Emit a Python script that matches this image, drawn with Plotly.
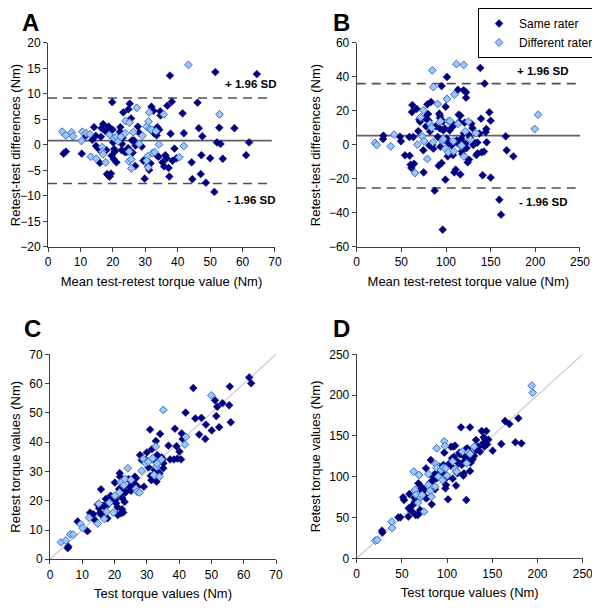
import plotly.graph_objects as go
from plotly.subplots import make_subplots

# ---- Panel A: Bland-Altman, smaller muscle group (Nm) ----
a_same_x = [4.8, 5.5, 10.4, 11.6, 13.7, 14.2, 14.7, 14.8, 15.8, 16.0, 16.5, 16.3, 17.0, 17.7,
            18.0, 18.2, 18.6, 19.0, 18.7, 19.1, 19.4, 19.6, 19.8, 19.9, 20.1, 20.4, 20.6, 20.3,
            21.1, 21.6, 22.3, 22.2, 22.3, 22.7, 22.8, 23.0, 23.2, 23.7, 24.2, 24.7, 24.8, 25.2,
            25.6, 25.9, 26.1, 26.5, 26.9, 27.0, 27.7, 28.1, 28.9, 29.4, 29.8, 30.0, 31.2, 30.9,
            31.6, 31.9, 32.5, 32.7, 33.5, 33.7, 33.8, 34.1, 34.3, 34.6, 34.7, 35.3, 35.8, 36.2,
            36.6, 36.8, 37.2, 37.4, 37.6, 37.8, 38.2, 38.4, 39.0, 39.6, 41.5, 41.9, 44.3, 44.5,
            46.1, 46.5, 47.1, 47.3, 47.6, 48.7, 50.0, 51.3, 51.6, 52.1, 52.8, 53.2, 53.9, 57.5,
            61.1, 62.0, 64.4]
a_same_y = [-1.7, -1.3, -1.7, 1.8, 1.0, 3.5, 1.8, -0.2, -0.9, -3.5, 3.3, 1.6, 4.1, 2.7,
            -1.0, -5.7, -6.0, -6.2, 3.6, 3.0, -5.6, -2.1, 8.4, 3.0, 0.5, -0.8, -1.3, -2.8,
            -3.4, 1.1, 3.5, 2.6, 1.8, -1.0, 0.2, 1.4, 6.4, -1.4, -1.4, -0.6, 7.0, 8.1,
            5.2, 0.9, -1.5, 0.9, -4.1, -0.1, 3.6, 2.4, -0.3, -3.1, -6.6, -2.8, -4.9, -4.1,
            -3.6, 7.5, 6.7, 2.3, 1.9, 3.5, -2.2, -2.3, 3.0, 6.6, 5.8, -3.4, -4.2, -2.0,
            -2.6, 7.7, -4.5, -6.2, 13.6, 2.2, 8.5, -3.1, -0.7, -2.6, 6.2, 2.3, -3.4, -6.7,
            8.3, 3.3, -5.7, -2.0, 1.7, -7.4, -2.6, -9.2, 14.3, 0.5, 3.4, 0.2, -2.7, 3.3,
            -2.0, 0.5, 13.9]
a_diff_x = [4.4, 5.5, 7.3, 7.7, 10.3, 10.6, 11.8, 12.9, 13.2, 14.9, 16.7, 16.8, 17.0, 17.8,
            18.9, 20.3, 21.1, 21.6, 22.5, 23.9, 23.8, 25.1, 25.0, 25.0, 25.7, 25.7, 26.3, 27.4,
            28.1, 29.1, 30.4, 31.2, 31.0, 31.4, 31.9, 32.2, 32.9, 30.7, 30.4, 30.9, 33.3, 34.2,
            35.7, 40.5, 41.9, 43.3, 52.9]
a_diff_y = [2.6, 1.9, 2.5, 1.7, 0.8, 2.6, 2.3, 2.1, -2.3, -2.7, -0.4, -1.3, -1.8, -3.4,
            2.0, 1.4, 1.6, 0.7, 1.6, 4.7, 2.3, 4.4, -1.3, -3.2, -2.8, -4.6, 2.5, 7.3,
            0.2, 1.8, 3.6, 6.4, 4.6, 3.1, 3.0, -1.6, -1.4, -2.2, -3.1, -4.4, 2.7, 0.1,
            6.0, -2.4, -0.2, 15.7, 6.0]
a_mean, a_upper, a_lower = 0.85, 9.2, -7.55

# ---- Panel B: Bland-Altman, larger muscle group (Nm) ----
b_same_x = [29.9, 29.5, 48.5, 49.6, 54.1, 59.0, 59.3, 60.4, 61.2, 62.3, 61.9, 63.4, 64.2, 67.2,
            69.0, 70.1, 70.9, 74.6, 75.0, 76.5, 77.6, 79.1, 79.9, 80.6, 81.3, 82.1, 83.2, 84.7,
            85.8, 87.3, 88.4, 90.7, 91.8, 92.5, 93.3, 93.3, 93.3, 93.7, 95.1, 95.1, 96.3, 96.6,
            97.0, 98.5, 99.3, 99.6, 100.7, 101.1, 101.9, 102.6, 104.1, 106.3, 107.1, 107.8, 108.6,
            109.3, 110.8, 111.9, 112.7, 113.4, 114.2, 114.9, 116.0, 116.0, 117.2, 117.9, 118.3,
            118.7, 119.8, 120.1, 120.9, 121.6, 122.4, 122.4, 123.1, 124.3, 125.0, 125.7, 126.9,
            128.4, 129.5, 130.6, 132.5, 134.0, 135.1, 135.4, 137.3, 138.4, 139.2, 139.9, 141.0,
            142.5, 143.3, 144.4, 145.1, 145.5, 148.5, 150.0, 150.0, 159.7, 161.6, 166.8, 167.9,
            175.4]
b_same_y = [5.5, 3.5, 4.9, 2.2, -6.1, 4.7, -6.3, -11.6, -13.5, 23.5, 19.4, 4.7, -11.0, 21.2,
            8.2, 14.9, 13.7, -3.1, -16.1, 15.9, 11.0, 23.9, 18.2, 14.3, -0.2, 8.0, 25.3, 0.2,
            -2.2, -26.9, 11.0, 4.7, -12.2, 18.4, 17.3, 15.9, 9.6, -1.0, 34.7, -10.6, -49.8, 13.9,
            8.6, 9.8, -20.4, 22.5, 3.9, 40.0, -6.7, 1.2, 8.6, -0.2, 10.6, -5.9, 11.8,
            -16.1, -14.5, 2.7, 1.2, 32.5, 17.8, 13.5, -17.3, 17.3, 3.7, -3.7, -5.3,
            1.0, 32.2, 6.9, 13.1, 0.8, 27.8, 31.0, -1.8, -10.2, 6.3, -8.6, 4.3,
            12.5, 10.0, 0.0, 1.2, -5.9, 1.4, -4.9, 6.7, 45.3, 15.5, -4.3, -17.8,
            -3.9, 36.1, 7.6, 9.4, 1.6, 19.2, 14.3, -19.2, -32.2, -41.0, 5.1, -3.1,
            -6.7]
b_diff_x = [20.5, 22.4, 38.1, 41.8, 67.9, 65.3, 71.6, 73.5, 74.6, 75.4, 79.1, 82.1, 83.9, 84.7,
            85.4, 85.8, 90.7, 93.7, 95.9, 97.0, 99.3, 101.1, 102.6, 102.6, 104.5, 109.3, 108.2,
            108.6, 111.6, 113.4, 116.8, 117.5, 119.8, 120.1, 121.6, 125.0, 127.6, 133.6, 199.3,
            203.0]
b_diff_y = [1.2, 0.0, -0.8, 6.1, 0.2, -16.5, 16.3, 5.1, 20.4, 2.2, -8.2, 12.5, 10.2, 43.9,
            1.6, 34.1, 24.1, 13.9, 2.4, 3.5, -2.2, 27.1, -4.3, 14.1, 14.1, 29.6, 2.2,
            -3.7, 47.6, 12.5, -0.8, -0.2, 47.1, -6.7, 8.0, 13.7, 3.1, 6.9, 9.4,
            17.8]
b_mean, b_upper, b_lower = 5.5, 36.1, -25.3

# ---- Panel C: test vs retest, smaller muscle group (Nm) ----
c_same_x = [5.7, 5.5, 8.6, 11.6, 12.4, 13.4, 13.9, 14.8, 15.2, 15.5, 15.8, 16.0, 16.5, 16.8,
            17.3, 17.8, 18.1, 18.8, 19.5, 20.1, 20.3, 20.5, 20.9, 21.0, 21.4, 21.6, 21.7, 21.9,
            22.0, 22.3, 22.4, 22.7, 23.1, 23.2, 23.4, 24.3, 24.6, 25.1, 25.4, 25.6, 25.9, 26.3,
            26.4, 26.6, 27.2, 27.9, 28.4, 29.1, 29.7, 30.0, 30.5, 31.0, 31.2, 31.4, 31.6, 32.0,
            32.4, 32.8, 33.0, 33.2, 33.6, 33.9, 34.1, 34.6, 34.9, 35.1, 35.1, 36.7, 37.2, 38.4,
            38.7, 39.2, 39.5, 40.1, 40.6, 40.8, 41.1, 42.0, 44.4, 45.0, 46.2, 46.9, 48.1, 48.3,
            50.1, 51.1, 51.5, 51.8, 52.4, 53.4, 55.5, 55.7, 56.0, 61.7, 62.3]
c_same_y = [4.3, 3.8, 12.9, 9.6, 15.9, 15.4, 13.4, 18.7, 17.4, 15.9, 23.9, 15.1, 18.3, 18.2,
            20.6, 14.0, 18.8, 21.7, 20.3, 26.2, 20.3, 19.1, 17.8, 15.1, 24.0, 29.4, 28.2, 22.1,
            15.7, 17.1, 20.9, 16.0, 19.6, 23.2, 22.8, 27.4, 24.6, 23.4, 26.2, 24.6, 27.1, 28.2,
            25.6, 27.7, 24.8, 35.6, 33.9, 24.8, 33.9, 36.5, 31.4, 44.3, 28.5, 27.0, 37.6, 34.1,
            30.5, 40.4, 26.5, 35.6, 28.9, 29.4, 42.8, 34.8, 34.1, 31.1, 32.8, 38.8, 34.1, 34.1,
            44.6, 38.6, 34.4, 36.8, 34.1, 43.0, 41.1, 50.1, 58.5, 48.1, 42.6, 48.3, 41.1, 46.0,
            44.0, 54.3, 48.9, 52.1, 45.1, 53.3, 52.6, 59.0, 46.8, 62.1, 60.1]
c_diff_x = [3.4, 4.9, 6.3, 7.2, 9.5, 10.1, 12.1, 14.8, 15.1, 16.8, 17.6, 18.4, 19.6, 20.1,
            21.5, 22.0, 22.9, 23.2, 24.1, 25.1, 26.6, 27.0, 27.7, 28.4, 28.9, 29.6, 30.5, 31.8,
            32.2, 32.8, 33.0, 33.2, 33.9, 34.5, 35.1, 41.8, 42.1, 50.0]
c_diff_y = [5.8, 6.4, 8.5, 8.4, 12.0, 10.7, 14.2, 12.2, 19.0, 13.8, 16.3, 19.3, 15.9, 21.7,
            22.8, 26.3, 25.3, 27.4, 31.1, 27.1, 24.1, 23.1, 22.8, 30.2, 34.3, 32.8, 33.3, 34.5,
            28.8, 38.5, 31.6, 32.7, 28.2, 34.1, 51.0, 39.2, 41.8, 56.0]

# ---- Panel D: test vs retest, larger muscle group (Nm) ----
d_same_x = [28.0, 28.4, 46.1, 48.3, 51.3, 52.4, 57.2, 57.5, 58.3, 60.8, 62.0, 63.8, 64.5, 65.3,
            66.0, 67.5, 68.2, 69.0, 70.1, 70.1, 71.2, 72.3, 73.0, 73.7, 74.9, 76.0, 76.7, 77.4,
            81.1, 81.9, 82.2, 83.0, 84.1, 84.8, 85.9, 86.7, 87.0, 88.5, 89.6, 91.4, 92.2, 93.7,
            95.1, 95.9, 96.9, 98.1, 98.8, 100.0, 101.0, 102.5, 104.0, 104.3, 105.5, 106.2, 107.0,
            107.7, 108.8, 109.9, 110.6, 111.4, 112.5, 113.6, 114.3, 115.4, 116.2, 117.3, 118.0,
            118.7, 119.1, 119.5, 120.6, 121.3, 121.7, 122.4, 123.2, 124.3, 125.4, 125.4, 126.1,
            128.3, 129.8, 131.3, 132.0, 132.7, 134.5, 136.4, 138.3, 139.7, 140.5, 141.2, 142.3,
            143.4, 144.2, 145.6, 150.4, 160.0, 164.1, 168.9, 175.5, 178.8, 182.2]
d_same_y = [33.9, 31.5, 50.2, 50.2, 74.8, 71.5, 51.1, 61.3, 78.8, 58.0, 65.4, 74.3, 69.4, 53.1,
            72.7, 53.1, 91.9, 55.1, 89.1, 59.2, 83.7, 85.8, 82.5, 77.6, 83.7, 74.3, 110.3, 73.5,
            92.7, 120.5, 75.6, 66.2, 100.1, 96.0, 102.9, 84.6, 100.1, 98.0, 104.2, 112.3, 101.3, 103.3,
            104.2, 114.4, 129.5, 85.8, 89.9, 99.3, 72.3, 116.4, 113.6, 136.8, 122.5, 97.6, 136.8,
            124.6, 138.1, 89.1, 119.7, 104.2, 116.4, 129.5, 127.5, 160.5, 114.4, 126.6, 101.3,
            104.2, 119.3, 125.4, 133.6, 71.5, 121.3, 134.8, 124.6, 130.7, 160.5, 107.0, 117.2,
            121.3, 125.4, 134.8, 145.0, 132.8, 136.8, 130.7, 156.0, 140.9, 148.3, 136.8, 145.8,
            156.0, 139.7, 145.4, 131.9, 140.1, 168.3, 164.6, 142.2, 171.6, 140.9]
d_diff_x = [20.6, 22.9, 38.7, 39.1, 63.1, 64.5, 65.6, 67.8, 69.0, 70.8, 72.3, 74.5, 79.3, 79.3,
            81.1, 82.6, 86.7, 87.6, 88.5, 88.5, 90.3, 93.3, 94.8, 95.9, 96.9, 97.7, 98.5, 100.0,
            106.2, 108.8, 110.6, 116.9, 121.7, 123.5, 125.4, 129.8, 193.6, 194.7]
d_diff_y = [21.7, 22.5, 44.9, 37.2, 106.2, 83.7, 78.0, 68.2, 102.1, 74.8, 77.6, 57.2, 89.9, 103.3,
            82.9, 75.6, 87.8, 115.2, 134.8, 111.1, 100.1, 108.3, 96.0, 111.1, 143.4, 137.7, 110.3,
            101.3, 118.9, 109.1, 106.2, 130.7, 116.4, 129.5, 127.9, 136.8, 211.6, 203.0]

FONT = "Arial, Liberation Sans, sans-serif"
SAME = dict(symbol="diamond", size=6, color="#000080", line=dict(color="#000080", width=0.5))
DIFF = dict(symbol="diamond", size=6, color="#9EC5F5", line=dict(color="#3A6FCF", width=1))

fig = make_subplots(rows=2, cols=2)


def add_points(row, col, sx, sy, dx, dy, legend):
    fig.add_trace(go.Scatter(x=sx, y=sy, mode="markers", marker=SAME, name="Same rater",
                             showlegend=legend), row=row, col=col)
    fig.add_trace(go.Scatter(x=dx, y=dy, mode="markers", marker=DIFF, name="Different rater",
                             showlegend=legend), row=row, col=col)


def add_limits(row, col, xmax, mean, upper, lower):
    for val, dash, color in [(mean, "solid", "#606060"), (upper, "9px,6px", "#505050"),
                             (lower, "9px,6px", "#505050")]:
        fig.add_trace(go.Scatter(x=[0, xmax], y=[val, val], mode="lines",
                                 line=dict(color=color, width=1.6, dash=dash),
                                 showlegend=False, hoverinfo="skip"), row=row, col=col)


# identity lines drawn first so markers sit above
fig.add_trace(go.Scatter(x=[0, 70], y=[0, 70], mode="lines", line=dict(color="#c8c8c8", width=1.2),
                         showlegend=False, hoverinfo="skip"), row=2, col=1)
fig.add_trace(go.Scatter(x=[0, 250], y=[0, 250], mode="lines", line=dict(color="#c8c8c8", width=1.2),
                         showlegend=False, hoverinfo="skip"), row=2, col=2)

add_limits(1, 1, 69, a_mean, a_upper, a_lower)
add_limits(1, 2, 250, b_mean, b_upper, b_lower)
add_points(1, 1, a_same_x, a_same_y, a_diff_x, a_diff_y, False)
add_points(1, 2, b_same_x, b_same_y, b_diff_x, b_diff_y, True)
add_points(2, 1, c_same_x, c_same_y, c_diff_x, c_diff_y, False)
add_points(2, 2, d_same_x, d_same_y, d_diff_x, d_diff_y, False)

axis_style = dict(showgrid=False, zeroline=False, showline=True, linecolor="#404040", linewidth=1,
                  ticks="outside", ticklen=4, tickcolor="#404040", automargin=False,
                  tickfont=dict(family=FONT, size=12, color="black"),
                  title_font=dict(family=FONT, size=13, color="black"))

fig.update_xaxes(**axis_style)
fig.update_yaxes(**axis_style)

# the page has an 8px body margin, so the figure is 592x600 and offsets are shifted
fig.update_layout(
    xaxis=dict(domain=[0.0676, 0.451], range=[0, 70], dtick=10,
               title=dict(text="Mean test-retest torque value (Nm)", standoff=8)),
    yaxis=dict(domain=[0.6017, 0.9417], range=[-20, 20], dtick=5,
               title=dict(text="Retest-test differences (Nm)", standoff=4)),
    xaxis2=dict(domain=[0.589, 0.9662], range=[0, 250], dtick=50,
                title=dict(text="Mean test-retest torque value (Nm)", standoff=8)),
    yaxis2=dict(domain=[0.6017, 0.9417], range=[-60, 60], dtick=20,
                title=dict(text="Retest-test differences (Nm)", standoff=5)),
    xaxis3=dict(domain=[0.0709, 0.4527], range=[0, 70], dtick=10,
                title=dict(text="Test torque values (Nm)", standoff=8)),
    yaxis3=dict(domain=[0.0812, 0.4228], range=[0, 70], dtick=10,
                title=dict(text="Retest torque values (Nm)", standoff=11)),
    xaxis4=dict(domain=[0.589, 0.9708], range=[0, 250], dtick=50,
                title=dict(text="Test torque values (Nm)", standoff=8)),
    yaxis4=dict(domain=[0.0828, 0.4228], range=[0, 250], dtick=50,
                title=dict(text="Retest torque values (Nm)", standoff=5)),
    width=592, height=600,
    margin=dict(l=0, r=0, t=0, b=0),
    plot_bgcolor="white", paper_bgcolor="white",
    font=dict(family=FONT, size=12, color="black"),
    legend=dict(x=0.794, y=1.0, xanchor="left", yanchor="top", bgcolor="white",
                bordercolor="black", borderwidth=1, font=dict(family=FONT, size=12),
                itemwidth=30, tracegroupgap=0),
)

# panel letters
for letter, x, y in [("A", 0.022, 0.9755), ("B", 0.547, 0.9755), ("C", 0.026, 0.465), ("D", 0.547, 0.465)]:
    fig.add_annotation(text=f"<b>{letter}</b>", x=x, y=y, xref="paper", yref="paper", showarrow=False,
                       xanchor="left", yanchor="middle", borderpad=0,
                       font=dict(family=FONT, size=24, color="black"))

# SD labels
for text, xr, yr, xv, yv in [("+ 1.96 SD", "x domain", "y", 1.013, 11.9),
                             ("- 1.96 SD", "x domain", "y", 1.013, -10.8),
                             ("+ 1.96 SD", "x2 domain", "y2", 0.955, 43.7),
                             ("- 1.96 SD", "x2 domain", "y2", 0.955, -33.3)]:
    fig.add_annotation(text=f"<b>{text}</b>", x=xv, y=yv, xref=xr, yref=yr, showarrow=False,
                       xanchor="right", yanchor="middle", font=dict(family=FONT, size=11.5, color="black"))

fig.write_html("out.html")
